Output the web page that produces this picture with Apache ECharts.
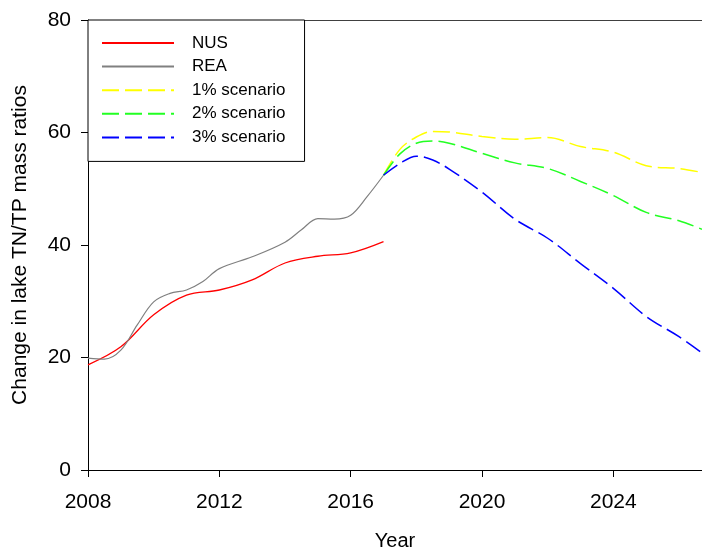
<!DOCTYPE html>
<html>
<head>
<meta charset="utf-8">
<script src="https://cdn.jsdelivr.net/npm/echarts@6/dist/echarts.min.js"></script>
<style>
html,body{margin:0;padding:0;background:#fff;}
#chart{width:702px;height:554px;}
</style>
</head>
<body>
<div id="chart"></div>
<script>
// ---- Data ----
const nusYears = [2008, 2009, 2010, 2011, 2012, 2013, 2014, 2015, 2016, 2017];
const nusValues = [18.7, 21.9, 27.6, 31.1, 32.0, 33.8, 36.8, 38.0, 38.6, 40.6];

const reaYears = [2008, 2008.5, 2009, 2009.5, 2010, 2010.5, 2011, 2011.5, 2012, 2013, 2014, 2014.5, 2015, 2015.5, 2016, 2016.5, 2017];
const reaValues = [19.9, 19.7, 21.3, 25.8, 29.9, 31.4, 32.0, 33.5, 35.8, 37.9, 40.5, 42.7, 44.7, 44.6, 45.3, 48.6, 52.4];

const scenarioYears = [2017, 2017.5, 2018, 2018.5, 2019, 2020, 2021, 2022, 2023, 2024, 2025, 2026, 2026.7];
const scenario1 = [52.4, 57.0, 59.2, 60.2, 60.1, 59.3, 58.8, 59.1, 57.5, 56.5, 54.1, 53.6, 52.9];
const scenario2 = [52.4, 56.2, 58.1, 58.5, 58.1, 56.3, 54.6, 53.6, 51.3, 48.8, 45.8, 44.3, 42.8];
const scenario3 = [52.4, 54.5, 55.8, 55.1, 53.5, 49.4, 44.6, 41.2, 36.7, 32.3, 27.3, 23.7, 20.8];

const seriesNames = ['NUS', 'REA', '1% scenario', '2% scenario', '3% scenario'];
const xTicks = [2008, 2012, 2016, 2020, 2024];
const yTicks = [0, 20, 40, 60, 80];

// ---- Chart ----
const FONT = "'Liberation Sans', Arial, sans-serif";
const pair = (xs, ys) => xs.map((x, i) => [x, ys[i]]);

const chart = echarts.init(document.getElementById('chart'), null, {renderer: 'canvas'});

function lineSeries(name, xs, ys, color, width, dashed) {
  return {
    name: name,
    type: 'line',
    data: pair(xs, ys),
    smooth: 0.35,
    showSymbol: false,
    symbol: 'none',
    lineStyle: {color: color, width: width, type: dashed ? [17, 6] : 'solid'},
    itemStyle: {color: color},
    z: dashed ? 3 : 2
  };
}

const option = {
  backgroundColor: '#ffffff',
  animation: false,
  textStyle: {fontFamily: FONT},
  grid: {left: 88, top: 20, right: 0, bottom: 84, containLabel: false, outerBoundsMode: 'none'},
  legend: {
    data: seriesNames,
    orient: 'vertical',
    left: 88,
    top: 20,
    padding: [13, 19, 14, 13],
    itemWidth: 72,
    itemHeight: 14,
    itemGap: 3.6,
    borderColor: '#000',
    borderWidth: 1,
    borderRadius: 0,
    backgroundColor: '#fff',
    itemStyle: {opacity: 0, borderWidth: 0},
    textStyle: {fontSize: 17, fontFamily: FONT, color: '#000', lineHeight: 20, padding: [0, 0, 0, 13]}
  },
  xAxis: [{
    type: 'value',
    min: 2008,
    max: 2026.7,
    interval: 4,
    name: 'Year',
    nameLocation: 'middle',
    nameGap: 61,
    nameTextStyle: {fontSize: 20, fontFamily: FONT, color: '#000'},
    axisLine: {show: true, lineStyle: {color: '#000', width: 1}},
    axisTick: {show: true, length: 7, inside: false, lineStyle: {color: '#000'}},
    axisLabel: {
      fontSize: 21, fontFamily: FONT, color: '#000', margin: 22,
      showMaxLabel: false,
      formatter: v => (xTicks.indexOf(v) >= 0 ? String(v) : '')
    },
    splitLine: {show: false}
  }, {
    type: 'value',
    position: 'top',
    min: 2008,
    max: 2026.7,
    interval: 4,
    axisLine: {show: true, lineStyle: {color: '#404040', width: 1}},
    axisTick: {show: false},
    axisLabel: {show: false},
    splitLine: {show: false}
  }],
  yAxis: {
    type: 'value',
    min: 0,
    max: 80,
    interval: 20,
    name: 'Change in lake TN/TP mass ratios',
    nameLocation: 'middle',
    nameGap: 57,
    nameTextStyle: {fontSize: 21, fontFamily: FONT, color: '#000'},
    axisLine: {show: true, lineStyle: {color: '#000', width: 1}},
    axisTick: {show: true, length: 7, inside: false, lineStyle: {color: '#000'}},
    axisLabel: {
      fontSize: 21, fontFamily: FONT, color: '#000', margin: 17,
      formatter: v => (yTicks.indexOf(v) >= 0 ? String(v) : '')
    },
    splitLine: {show: false}
  },
  series: [
    lineSeries(seriesNames[0], nusYears, nusValues, '#ff0000', 1.3, false),
    lineSeries(seriesNames[1], reaYears, reaValues, '#808080', 1.2, false),
    lineSeries(seriesNames[2], scenarioYears, scenario1, '#ffff00', 1.5, true),
    lineSeries(seriesNames[3], scenarioYears, scenario2, '#22ff22', 1.5, true),
    lineSeries(seriesNames[4], scenarioYears, scenario3, '#0000ff', 1.5, true)
  ]
};
chart.setOption(option);
</script>
</body>
</html>
